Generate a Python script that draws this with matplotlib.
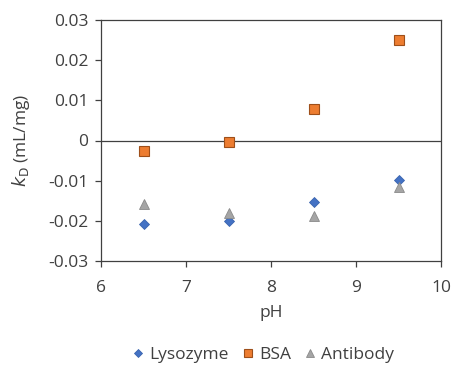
import matplotlib.pyplot as plt

ph = [6.5, 7.5, 8.5, 9.5]
lysozyme = [-0.0209, -0.0201, -0.0154, -0.0099]
bsa = [-0.0027, -0.0004, 0.0079, 0.0251]
antibody = [-0.0159, -0.0180, -0.0187, -0.0116]

plt.rcParams['font.family'] = ['Open Sans', 'DejaVu Sans']
plt.rcParams['font.size'] = 12.5

fig = plt.figure(figsize=(4.64, 3.76), dpi=100)
ax = fig.add_axes([101 / 464, 1 - 261 / 376, 340 / 464, 241 / 376])

ax.plot(ph, lysozyme, 'D', ms=5.5, color='#4472C4', mec='#3A64AE', mew=0.6, label='Lysozyme', zorder=3)
ax.plot(ph, bsa, 's', ms=7, color='#ED7D31', mec='#9E4F1A', mew=0.8, label='BSA', zorder=3)
ax.plot(ph, antibody, '^', ms=7.5, color='#A5A5A5', mec='#8A8A8A', mew=0.6, label='Antibody', zorder=3)

ax.axhline(0, color='#404040', lw=0.9, zorder=1)

ax.set_xlim(6, 10)
ax.set_ylim(-0.03, 0.03)
ax.set_xticks([6, 7, 8, 9, 10])
ax.set_yticks([-0.03, -0.02, -0.01, 0, 0.01, 0.02, 0.03])
ax.set_yticklabels(['-0.03', '-0.02', '-0.01', '0', '0.01', '0.02', '0.03'])

for s in ax.spines.values():
    s.set_color('#404040')
    s.set_linewidth(0.9)
ax.tick_params(direction='out', length=4, width=0.9, color='#404040', labelcolor='#404040', pad=5)
ax.tick_params(axis='x', pad=10)

ax.set_xlabel('pH', color='#404040', labelpad=6)
ax.set_ylabel(r'$k_\mathrm{D}$ (mL/mg)', color='#404040', labelpad=12)

ax.legend(loc='upper center', bbox_to_anchor=(0.47, -0.29), ncol=3, frameon=False,
          handletextpad=0.05, columnspacing=0.5, handlelength=1.2, markerscale=0.8,
          labelcolor='#404040')

fig.savefig('out.png', dpi=100)
